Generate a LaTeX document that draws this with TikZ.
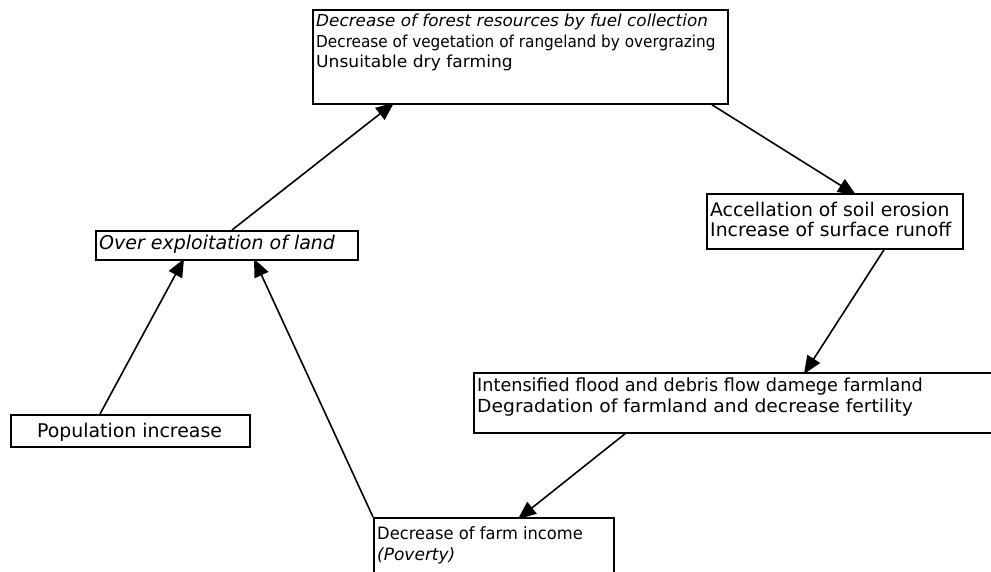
\documentclass[tikz,border=0pt]{standalone}
\usepackage{fontspec}
\setmainfont{DejaVu Sans}
\usetikzlibrary{arrows.meta,backgrounds}
\newcommand{\fs}[1]{\fontsize{#1}{#1}\selectfont}
\begin{document}
\begin{tikzpicture}[x=1pt,y=-1pt,
  box/.style={draw=black,line width=1.8pt,fill=white,rectangle,anchor=north west,inner sep=0pt},
  txt/.style={anchor=base west,inner sep=0pt},
  flow/.style={line width=1.6pt,-{Triangle[length=18pt,width=15pt]}}]
\clip (0,0) rectangle (991,572);

% boxes
\node[box,minimum width=415pt,minimum height=94pt] (top) at (312,9) {};
\node[box,minimum width=256pt,minimum height=55pt] (soil) at (706,193) {};
\node[box,minimum width=540pt,minimum height=60pt] (flood) at (473,372) {};
\node[box,minimum width=262pt,minimum height=29pt] (over) at (95,230) {};
\node[box,minimum width=239pt,minimum height=32pt] (pop) at (10,414) {};
\node[box,minimum width=240pt,minimum height=80pt] (farm) at (373,517) {};

% texts
\node[txt] (t1) at (316,27) {\scalebox{1.02}[1]{\fs{16.5}\itshape Decrease of forest resources by fuel collection}};
\node[txt] (t2) at (316,48) {\scalebox{0.926}[1]{\fs{16.5}Decrease of vegetation of rangeland by overgrazing}};
\node[txt] (t3) at (316,68) {\scalebox{1.037}[1]{\fs{16.5}Unsuitable dry farming}};
\node[txt] (s1) at (710,217) {\fs{18.8}Accellation of soil erosion};
\node[txt] (s2) at (710,237) {\fs{18.8}Increase of surface runoff};
\node[txt] (f1) at (477,391) {\scalebox{0.98}[1]{\fs{18}Intensified flood and debris flow damege farmland}};
\node[txt] (f2) at (477,412) {\scalebox{1.04}[1]{\fs{18}Degradation of farmland and decrease fertility}};
\node[txt] (o1) at (99,250) {\fs{19}\itshape Over exploitation of land};
\node[txt,anchor=base] (p1) at (129.5,437) {\fs{18.9}Population increase};
\node[txt] (m1) at (377,539) {\scalebox{0.96}[1]{\fs{17}Decrease of farm income}};
\node[txt] (m2) at (377,560) {\fs{17}\itshape (Poverty)};

% connectors, their tips partly hidden under the boxes
\begin{scope}[on background layer]
\draw[flow] ([shift={(137,0)}]over.north west) -- ([shift={(82,-2)}]top.south west);
\draw[flow] ([shift={(400,0)}]top.south west) -- ([shift={(150,2)}]soil.north west);
\draw[flow] ([shift={(178,0)}]soil.south west) -- ([shift={(331,2)}]flood.north west);
\draw[flow] ([shift={(152,0)}]flood.south west) -- ([shift={(145,2)}]farm.north west);
\draw[flow] ([shift={(0,0)}]farm.north west) -- ([shift={(159,-2)}]over.south west);
\draw[flow] ([shift={(90,0)}]pop.north west) -- ([shift={(89,-2)}]over.south west);
\end{scope}
\end{tikzpicture}
\end{document}
